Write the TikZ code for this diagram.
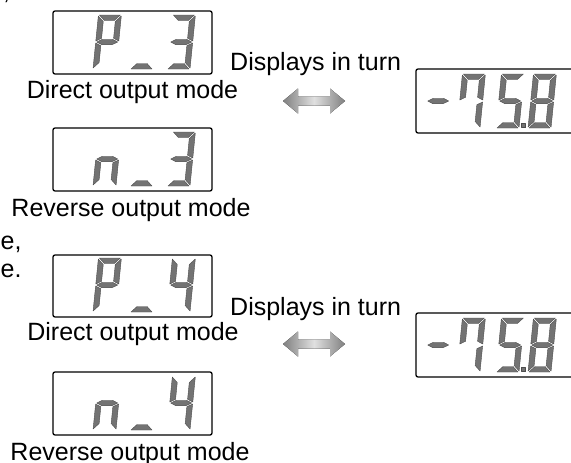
\documentclass[tikz,border=0pt]{standalone}
\usepackage{fontspec}
\setmainfont{Liberation Sans}
% seven-segment shapes (local units: pt, y up), W=23, H=54, T=5.5
\def\lcdsegA{(1,54)--(22,54)--(16.5,48.5)--(6.5,48.5)--cycle}
\def\lcdsegD{(1,0)--(22,0)--(16.5,5.5)--(6.5,5.5)--cycle}
\def\lcdsegF{(0,53)--(5.5,47.5)--(5.5,30.75)--(0,28)--cycle}
\def\lcdsegE{(0,1)--(5.5,6.5)--(5.5,23.25)--(0,26)--cycle}
\def\lcdsegB{(23,53)--(17.5,47.5)--(17.5,30.75)--(23,28)--cycle}
\def\lcdsegC{(23,1)--(17.5,6.5)--(17.5,23.25)--(23,26)--cycle}
\def\lcdsegG{(1,27)--(6.5,29.75)--(16.5,29.75)--(22,27)--(16.5,24.25)--(6.5,24.25)--cycle}
\newcommand\lcddigit[3]{%
  \begin{scope}[shift={(#1,#2)},x=1pt,y=1pt,xslant=0.1]
    \foreach \s in {#3}{\filldraw[segfill] \csname lcdseg\s\endcsname;}
  \end{scope}}
\begin{document}
\begin{tikzpicture}[x=1pt,y=-1pt,
  segfill/.style={fill=black!55, draw=black!70, line width=0.4pt, line join=round},
  lcdbox/.style={draw=black, line width=1.3pt, rounded corners=2pt},
  lbl/.style={font=\fontsize{25}{30}\selectfont, inner sep=0pt},
  dblarrow/.style={left color=black!50, right color=black!50, middle color=black!12, draw=none}]
\useasboundingbox (0,0) rectangle (571,463);

% cropped text fragments at left edge
\node[lbl, anchor=base west] (frag0) at (3,-1) {,};
\node[lbl, anchor=base west] (frag1) at (0.5,249) {e,};
\node[lbl, anchor=base west] (frag2) at (0.5,277) {e.};

% ---------- upper group ----------
\draw[lcdbox] (53,11) rectangle (212,74);
\lcddigit{93}{69}{A,B,E,F,G}
\lcddigit{130}{69}{D}
\lcddigit{167}{69}{A,B,C,D,G}
\node[lbl, anchor=base] (dir1) at (132.5,98) {Direct output mode};

\draw[lcdbox] (53,128) rectangle (212,191);
\lcddigit{93}{186}{C,E,G}
\lcddigit{130}{186}{D}
\lcddigit{167}{186}{A,B,C,D,G}
\node[lbl, anchor=base] (rev1) at (131,216) {Reverse output mode};

\node[lbl, anchor=base west] (turn1) at (230,70) {Displays in turn};
\fill[dblarrow] (283,101)--(298,88.5)--(298,96.5)--(330,96.5)--(330,88.5)--(345,101)
  --(330,113.5)--(330,105.5)--(298,105.5)--(298,113.5)--cycle;

\draw[lcdbox] (416,69) rectangle (590,133);
\lcddigit{424}{128}{G}
\lcddigit{457}{128}{A,B,C,F}
\lcddigit{496}{128}{A,F,G,C,D}
\lcddigit{528}{128}{A,B,C,D,E,F,G}
\filldraw[segfill] (521.5,123.5) rectangle (525.5,127.5);

% ---------- lower group ----------
\draw[lcdbox] (53,255) rectangle (212,317);
\lcddigit{93}{312}{A,B,E,F,G}
\lcddigit{130}{312}{D}
\lcddigit{167}{312}{B,C,F,G}
\node[lbl, anchor=base] (dir2) at (133,340) {Direct output mode};

\draw[lcdbox] (53,372) rectangle (212,435);
\lcddigit{93}{430}{C,E,G}
\lcddigit{130}{430}{D}
\lcddigit{167}{430}{B,C,F,G}
\node[lbl, anchor=base] (rev2) at (130,460) {Reverse output mode};

\node[lbl, anchor=base west] (turn2) at (230,315) {Displays in turn};
\fill[dblarrow] (283,344)--(298,331.5)--(298,339.5)--(330,339.5)--(330,331.5)--(345,344)
  --(330,356.5)--(330,348.5)--(298,348.5)--(298,356.5)--cycle;

\draw[lcdbox] (416,313) rectangle (590,377);
\lcddigit{424}{372}{G}
\lcddigit{457}{372}{A,B,C,F}
\lcddigit{496}{372}{A,F,G,C,D}
\lcddigit{528}{372}{A,B,C,D,E,F,G}
\filldraw[segfill] (521.5,367.5) rectangle (525.5,371.5);
\end{tikzpicture}
\end{document}
